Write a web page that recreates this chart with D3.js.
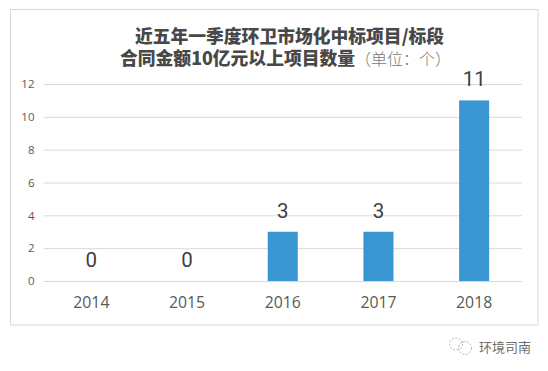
<!DOCTYPE html>
<html>
<head>
<meta charset="utf-8">
<script src="https://cdnjs.cloudflare.com/ajax/libs/d3/7.8.5/d3.min.js"></script>
<style>
  html, body { margin: 0; padding: 0; background: #fff; }
  svg { display: block; }
  .cjk { font-family: "Noto Sans CJK SC", sans-serif; }
  .num { font-family: "Open Sans", "DejaVu Sans", sans-serif; }
  .value { font-family: Roboto, "Open Sans", sans-serif; }
</style>
</head>
<body>
<div id="graph-goes-here"></div>
<script>
const years = ["2014", "2015", "2016", "2017", "2018"];
const counts = [0, 0, 3, 3, 11];
const yTicks = [0, 2, 4, 6, 8, 10, 12];
const titleLine1 = "近五年一季度环卫市场化中标项目/标段";
const titleLine2 = "合同金额10亿元以上项目数量";
const titleUnit = "（单位：个）";
const watermark = "环境司南";

const width = 548, height = 371;

// set the dimensions of the plot
const margin = { top: 84, right: 26, bottom: 90, left: 43.5 },
    plotw = width - margin.left - margin.right,
    ploth = height - margin.top - margin.bottom;

const xscale = d3.scaleBand().domain(years).range([0, plotw]).paddingInner(0.686).paddingOuter(0.343);
const yscale = d3.scaleLinear().domain([0, 12]).range([ploth, 0]);

const svg = d3.select("#graph-goes-here").append("svg")
    .attr("width", width)
    .attr("height", height);

// chart frame
svg.append("rect")
    .attr("x", 10.5).attr("y", 9.5)
    .attr("width", 527.5).attr("height", 315.5)
    .attr("fill", "#fff")
    .attr("stroke", "#d9d9d9");

// title
const title = svg.append("g").attr("class", "cjk").attr("fill", "#484848");
title.append("text")
    .attr("x", 289.5).attr("y", 43)
    .attr("text-anchor", "middle")
    .attr("font-size", 17.8).attr("font-weight", 900)
    .text(titleLine1);
const line2 = title.append("text").attr("x", 120).attr("y", 65);
line2.append("tspan")
    .attr("font-size", 17.8).attr("font-weight", 900)
    .text(titleLine2);
line2.append("tspan")
    .attr("font-size", 16).attr("font-weight", 300).attr("fill", "#787878")
    .text(titleUnit);

const graph = svg.append("g")
    .attr("transform", `translate(${margin.left},${margin.top})`);

// Y axis with gridlines
const gy = graph.append("g").call(
    d3.axisLeft(yscale).tickValues(yTicks).tickSize(-plotw).tickPadding(9)
);
gy.select(".domain").remove();
gy.selectAll(".tick line").attr("stroke", "#d9d9d9");
gy.selectAll(".tick text")
    .attr("class", "num")
    .attr("fill", "#595959")
    .attr("font-size", 11.5);

// X axis
const gx = graph.append("g")
    .attr("transform", `translate(0,${ploth})`)
    .call(d3.axisBottom(xscale).tickSize(0).tickPadding(16));
gx.select(".domain").remove();
gx.selectAll(".tick text")
    .attr("class", "num")
    .attr("fill", "#595959")
    .attr("font-size", 15.8);

// bars
graph.selectAll(".bar")
    .data(years)
    .join("rect")
    .attr("class", "bar")
    .attr("x", d => xscale(d))
    .attr("y", (d, i) => yscale(counts[i]))
    .attr("width", xscale.bandwidth())
    .attr("height", (d, i) => ploth - yscale(counts[i]))
    .attr("fill", "#3a96d1");

// value labels
graph.selectAll(".value")
    .data(years)
    .join("text")
    .attr("class", "value")
    .attr("x", d => xscale(d) + xscale.bandwidth() / 2)
    .attr("y", (d, i) => yscale(counts[i]) - 14)
    .attr("text-anchor", "middle")
    .attr("fill", "#404040")
    .attr("font-size", 20.5)
    .text((d, i) => counts[i]);

// watermark: two dashed bubbles and the account name
const mark = svg.append("g").attr("fill", "none").attr("stroke", "#b5b5b5").attr("stroke-dasharray", "2 1.5");
mark.append("ellipse").attr("cx", 456).attr("cy", 344).attr("rx", 6.5).attr("ry", 6);
mark.append("ellipse").attr("cx", 465).attr("cy", 348).attr("rx", 6.5).attr("ry", 6.5);
svg.append("text")
    .attr("class", "cjk")
    .attr("x", 479).attr("y", 352)
    .attr("fill", "#6e6e6e")
    .attr("font-size", 13)
    .text(watermark);
</script>
</body>
</html>
